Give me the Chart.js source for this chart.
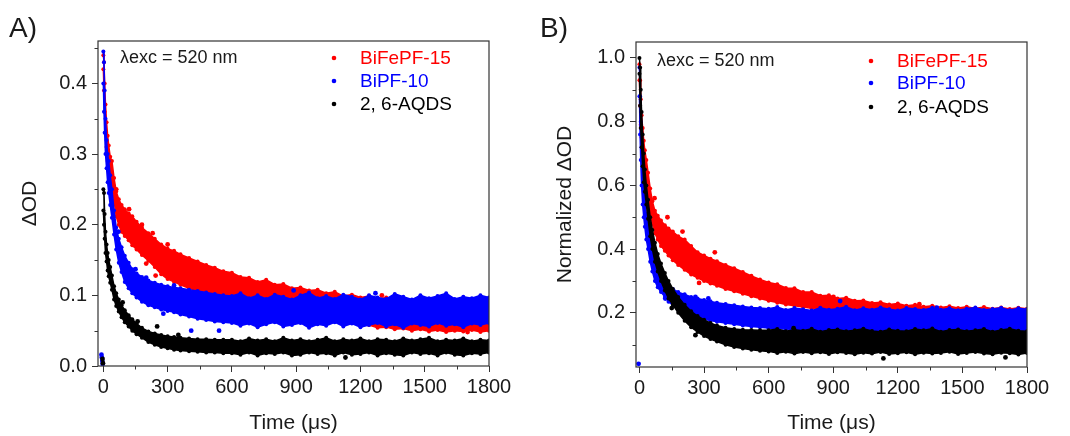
<!DOCTYPE html>
<html><head><meta charset="utf-8">
<script src="https://cdn.jsdelivr.net/npm/chart.js@4/dist/chart.umd.min.js"></script>
<style>
html,body{margin:0;padding:0;background:#fff;}
#wrap{position:relative;width:1070px;height:436px;}
canvas{position:absolute;top:0;}
#cA{left:0;} #cB{left:535px;}
</style></head>
<body><div id="wrap"><canvas id="cA" width="535" height="436"></canvas><canvas id="cB" width="535" height="436"></canvas></div>
<script>
// ---- data ----
const T = [0,3,6,10,15,20,25,32,40,50,60,72,85,100,118,135,155,180,210,240,270,300,330,360,400,440,480,520,560,
  600,640,680,720,760,800,840,880,920,960,1000,1040,1080,1120,1160,1200,1240,1280,1320,1360,1400,1440,1480,1520,1560,1600,1640,1680,1720,1760,1800];

// Panel A: ΔOD band (upper / lower edge of the scattered points)
const redA_hi = [0.44,0.43,0.40,0.37,0.345,0.326,0.312,0.296,0.29,0.266,0.247,0.236,0.228,0.222,0.216,0.212,0.204,0.196,0.188,0.18,0.172,0.166,0.163,0.158,0.153,0.148,0.143,0.139,0.134,
  0.132,0.126,0.125,0.119,0.122,0.115,0.116,0.11,0.111,0.107,0.108,0.103,0.105,0.099,0.101,0.097,0.099,0.095,0.097,0.094,0.096,0.092,0.094,0.091,0.093,0.09,0.092,0.089,0.091,0.088,0.09];
const redA_lo = [0.42,0.39,0.36,0.33,0.31,0.29,0.276,0.262,0.255,0.234,0.212,0.2,0.19,0.184,0.178,0.171,0.165,0.157,0.149,0.14,0.13,0.123,0.119,0.115,0.11,0.106,0.102,0.099,0.097,
  0.095,0.093,0.092,0.089,0.088,0.085,0.084,0.08,0.079,0.075,0.073,0.069,0.067,0.063,0.062,0.058,0.058,0.054,0.055,0.052,0.053,0.05,0.052,0.049,0.051,0.048,0.05,0.049,0.051,0.048,0.05];
const blueA_hi = [0.445,0.43,0.39,0.35,0.32,0.30,0.29,0.27,0.25,0.22,0.196,0.18,0.168,0.156,0.146,0.137,0.131,0.126,0.121,0.118,0.115,0.113,0.111,0.11,0.108,0.106,0.104,0.102,0.1,
  0.099,0.103,0.096,0.1,0.095,0.101,0.098,0.094,0.1,0.104,0.096,0.099,0.095,0.101,0.098,0.094,0.1,0.097,0.095,0.102,0.098,0.094,0.1,0.096,0.099,0.103,0.095,0.098,0.096,0.1,0.097];
const blueA_lo = [0.40,0.36,0.33,0.30,0.28,0.26,0.245,0.228,0.21,0.186,0.165,0.146,0.133,0.119,0.11,0.103,0.097,0.091,0.086,0.083,0.08,0.078,0.076,0.073,0.07,0.067,0.065,0.063,0.062,
  0.061,0.057,0.06,0.055,0.059,0.062,0.056,0.058,0.061,0.054,0.059,0.057,0.062,0.056,0.06,0.055,0.058,0.061,0.056,0.059,0.054,0.06,0.058,0.056,0.061,0.057,0.059,0.055,0.06,0.058,0.061];
const blackA_hi = [0.25,0.245,0.215,0.19,0.172,0.16,0.15,0.14,0.128,0.113,0.103,0.094,0.086,0.079,0.072,0.066,0.06,0.054,0.049,0.046,0.044,0.042,0.041,0.04,0.039,0.038,0.038,0.037,0.037,
  0.037,0.035,0.039,0.036,0.038,0.035,0.04,0.036,0.038,0.035,0.037,0.04,0.035,0.038,0.036,0.039,0.035,0.038,0.037,0.035,0.039,0.036,0.038,0.04,0.035,0.037,0.036,0.039,0.035,0.037,0.036];
const blackA_lo = [0.22,0.20,0.18,0.16,0.148,0.135,0.127,0.118,0.108,0.094,0.085,0.077,0.069,0.062,0.056,0.05,0.045,0.04,0.034,0.03,0.027,0.025,0.023,0.022,0.021,0.02,0.019,0.019,0.018,
  0.018,0.016,0.019,0.015,0.018,0.017,0.019,0.015,0.016,0.019,0.017,0.018,0.015,0.019,0.016,0.017,0.019,0.015,0.018,0.016,0.015,0.019,0.017,0.018,0.015,0.019,0.016,0.015,0.018,0.017,0.019];
// isolated points (panel A)
const redA_ox = [60,120,180,230,244,300,200,1012,1090,1300,1700];
const redA_oy = [0.25,0.222,0.2,0.188,0.128,0.172,0.145,0.1,0.1,0.1,0.048];
const blueA_ox = [-9,-7,-5,-3,70,150,200,259,280,330,410,540,888,1270];
const blueA_oy = [0.016,0.012,0.007,0.003,0.19,0.137,0.125,0.112,0.074,0.114,0.05,0.05,0.107,0.103];
const blackA_ox = [-4,-2,90,160,251,350,1130];
const blackA_oy = [0.01,0.004,0.09,0.063,0.056,0.044,0.012];

// Panel B: normalized ΔOD band
const redB_hi = [0.98,0.93,0.87,0.82,0.78,0.74,0.71,0.68,0.64,0.59,0.55,0.52,0.505,0.49,0.475,0.465,0.455,0.44,0.43,0.41,0.39,0.38,0.37,0.362,0.35,0.34,0.328,0.316,0.305,
  0.295,0.29,0.278,0.277,0.265,0.265,0.254,0.255,0.245,0.247,0.238,0.239,0.231,0.233,0.226,0.229,0.222,0.225,0.219,0.222,0.217,0.221,0.215,0.219,0.214,0.218,0.213,0.217,0.212,0.216,0.213];
const redB_lo = [0.93,0.85,0.79,0.75,0.70,0.66,0.63,0.60,0.56,0.51,0.48,0.45,0.43,0.41,0.395,0.38,0.365,0.35,0.335,0.32,0.31,0.30,0.292,0.285,0.275,0.268,0.26,0.252,0.245,
  0.238,0.232,0.226,0.222,0.218,0.214,0.21,0.207,0.204,0.202,0.2,0.198,0.196,0.194,0.193,0.192,0.19,0.189,0.188,0.187,0.186,0.185,0.184,0.183,0.182,0.181,0.18,0.18,0.179,0.178,0.178];
const blueB_hi = [0.97,0.88,0.80,0.72,0.66,0.60,0.56,0.51,0.47,0.43,0.40,0.37,0.345,0.325,0.305,0.285,0.275,0.265,0.258,0.25,0.245,0.24,0.236,0.232,0.228,0.224,0.22,0.217,0.215,
  0.213,0.218,0.209,0.215,0.211,0.207,0.216,0.21,0.213,0.219,0.208,0.214,0.21,0.217,0.211,0.207,0.215,0.212,0.209,0.216,0.21,0.214,0.208,0.213,0.217,0.209,0.212,0.216,0.208,0.214,0.211];
const blueB_lo = [0.88,0.76,0.68,0.60,0.54,0.50,0.47,0.43,0.40,0.36,0.33,0.30,0.28,0.265,0.25,0.235,0.225,0.21,0.2,0.192,0.186,0.18,0.176,0.172,0.168,0.164,0.16,0.157,0.155,
  0.152,0.15,0.149,0.148,0.147,0.146,0.145,0.145,0.144,0.144,0.143,0.143,0.142,0.142,0.142,0.141,0.141,0.141,0.14,0.14,0.14,0.14,0.14,0.14,0.14,0.14,0.14,0.14,0.14,0.14,0.14];
const blackB_hi = [1.0,0.97,0.90,0.83,0.76,0.70,0.65,0.60,0.555,0.50,0.46,0.42,0.385,0.355,0.325,0.30,0.275,0.25,0.225,0.205,0.19,0.178,0.168,0.16,0.153,0.149,0.147,0.146,0.145,
  0.145,0.149,0.142,0.147,0.144,0.15,0.141,0.146,0.148,0.142,0.145,0.15,0.143,0.141,0.148,0.144,0.142,0.149,0.145,0.151,0.141,0.146,0.148,0.142,0.145,0.149,0.141,0.146,0.15,0.144,0.142];
const blackB_lo = [0.95,0.85,0.78,0.72,0.66,0.61,0.58,0.54,0.495,0.44,0.40,0.36,0.33,0.30,0.27,0.245,0.225,0.2,0.175,0.155,0.14,0.127,0.118,0.11,0.1,0.093,0.088,0.084,0.081,
  0.079,0.074,0.078,0.072,0.077,0.073,0.076,0.071,0.076,0.074,0.07,0.075,0.072,0.077,0.071,0.073,0.076,0.07,0.075,0.072,0.074,0.078,0.071,0.074,0.077,0.072,0.07,0.075,0.073,0.069,0.074];
// isolated points (panel B)
const redB_ox = [70,130,200,277,350,901,1065,1300];
const redB_oy = [0.56,0.5,0.455,0.294,0.39,0.25,0.222,0.227];
const blueB_ox = [-4,120,260,320,932,1381];
const blueB_oy = [0.04,0.245,0.25,0.245,0.237,0.216];
const blackB_ox = [150,260,716,1133,1700];
const blackB_oy = [0.215,0.13,0.152,0.057,0.06];

// axis ticks & labels
const X_TICKS = [0,300,600,900,1200,1500,1800];
const X_MINOR = [150,450,750,1050,1350,1650];
const YA_TICKS = [0,0.1,0.2,0.3,0.4];
const YA_LABELS = ['0.0','0.1','0.2','0.3','0.4'];
const YA_MINOR = [0.05,0.15,0.25,0.35,0.45];
const YB_TICKS = [0.2,0.4,0.6,0.8,1.0];
const YB_LABELS = ['0.2','0.4','0.6','0.8','1.0'];
const YB_MINOR = [0.1,0.3,0.5,0.7,0.9];
const SERIES = ['BiFePF-15','BiPF-10','2, 6-AQDS'];
const COLORS = ['#ff0000','#0000ff','#000000'];

// ---- chart building ----
const FONT = '"Liberation Sans", Arial, sans-serif';
const INK = '#1a1a1a';
function band(hi, lo, color, order){
  const base = {type:'line', borderColor:color, backgroundColor:color, borderWidth:1.5, pointRadius:2,
    pointBorderWidth:0, pointBackgroundColor:color, tension:0, order:order};
  return [
    Object.assign({}, base, {data:T.map((t,i)=>({x:t,y:hi[i]})), fill:'+1'}),
    Object.assign({}, base, {data:T.map((t,i)=>({x:t,y:lo[i]})), fill:false})
  ];
}
function pts(xs, ys, color, order){
  return {type:'scatter', data:xs.map((x,i)=>({x:x,y:ys[i]})), showLine:false, pointRadius:2.4,
    pointBorderWidth:0, pointBackgroundColor:color, backgroundColor:color, borderColor:color, order:order};
}
function decor(opts){
  return {id:'decor'+opts.label, afterDraw(chart){
    const {ctx, chartArea:a, scales:{x,y}} = chart;
    ctx.save();
    ctx.strokeStyle = '#333'; ctx.lineWidth = 1.2;
    ctx.strokeRect(a.left, a.top, a.right-a.left, a.bottom-a.top);
    ctx.lineWidth = 1;
    ctx.beginPath();
    X_MINOR.forEach(v=>{const px=Math.round(x.getPixelForValue(v))+0.5; ctx.moveTo(px,a.bottom); ctx.lineTo(px,a.bottom+3.5);});
    opts.yMinor.forEach(v=>{const py=Math.round(y.getPixelForValue(v))+0.5; ctx.moveTo(a.left,py); ctx.lineTo(a.left-3.5,py);});
    ctx.stroke();
    // panel label
    ctx.fillStyle = INK; ctx.textBaseline='middle'; ctx.textAlign='left';
    ctx.font = '28px '+FONT;
    ctx.fillText(opts.label, opts.labelX, opts.labelY);
    ctx.font = '18px '+FONT;
    ctx.fillText('\u03bbexc = 520 nm', opts.lamX, opts.lamY);
    ctx.font = '19px '+FONT;
    SERIES.forEach((s,i)=>{
      ctx.fillStyle = COLORS[i];
      ctx.beginPath(); ctx.arc(opts.legX, opts.legY[i], 2.3, 0, Math.PI*2); ctx.fill();
      ctx.fillText(s, opts.legX+26, opts.legY[i]+1);
    });
    ctx.restore();
  }};
}
function makeChart(id, d, yTicks, yLabels, yMin, yMax, xMin, yTitle, yWidth, pad, xH, decorOpts){
  const datasets = [
    ...band(d.bh, d.bl, COLORS[2], 0), pts(d.box, d.boy, COLORS[2], 0),
    ...band(d.uh, d.ul, COLORS[1], 1), pts(d.uox, d.uoy, COLORS[1], 1),
    ...band(d.rh, d.rl, COLORS[0], 2), pts(d.rox, d.roy, COLORS[0], 2)
  ];
  return new Chart(document.getElementById(id), {
    type:'line',
    data:{datasets},
    options:{
      responsive:false, animation:false, devicePixelRatio:1,
      layout:{padding:pad},
      plugins:{legend:{display:false}, tooltip:{enabled:false}},
      scales:{
        x:{type:'linear', min:xMin, max:1800,
          afterBuildTicks(s){ s.ticks = X_TICKS.map(v=>({value:v})); },
          afterFit(s){ s.height = xH; },
          ticks:{font:{family:FONT,size:20}, color:INK, padding:3, maxRotation:0, autoSkip:false,
            callback:(v)=>String(v)},
          grid:{drawOnChartArea:false, drawTicks:true, tickLength:6, color:'#333', tickWidth:1},
          border:{display:false},
          title:{display:true, text:'Time (\u03bcs)', font:{family:FONT,size:21}, color:INK, padding:{top:0,bottom:0}}
        },
        y:{type:'linear', min:yMin, max:yMax,
          afterBuildTicks(s){ s.ticks = yTicks.map(v=>({value:v})); },
          afterFit(s){ s.width = yWidth; },
          ticks:{font:{family:FONT,size:20}, color:INK, padding:5, autoSkip:false,
            callback:(v)=>{const i=yTicks.findIndex(t=>Math.abs(t-v)<1e-9); return i>=0?yLabels[i]:'';}},
          grid:{drawOnChartArea:false, drawTicks:true, tickLength:6, color:'#333', tickWidth:1},
          border:{display:false},
          title:{display:true, text:yTitle, font:{family:FONT,size:21}, color:INK, padding:{top:18,bottom:0}}
        }
      }
    },
    plugins:[decor(decorOpts)]
  });
}

makeChart('cA', {rh:redA_hi, rl:redA_lo, uh:blueA_hi, ul:blueA_lo, bh:blackA_hi, bl:blackA_lo,
    rox:redA_ox, roy:redA_oy, uox:blueA_ox, uoy:blueA_oy, box:blackA_ox, boy:blackA_oy},
  YA_TICKS, YA_LABELS, 0, 0.46, -25, '\u0394OD', 98, {left:0, top:41, right:46, bottom:0}, 70,
  {label:'A)', labelX:9, labelY:29, lamX:120, lamY:58, legX:334, legY:[58,81,104], yMinor:YA_MINOR});

makeChart('cB', {rh:redB_hi, rl:redB_lo, uh:blueB_hi, ul:blueB_lo, bh:blackB_hi, bl:blackB_lo,
    rox:redB_ox, roy:redB_oy, uox:blueB_ox, uoy:blueB_oy, box:blackB_ox, boy:blackB_oy},
  YB_TICKS, YB_LABELS, 0.03, 1.05, -16, 'Normalized \u0394OD', 101, {left:0, top:42, right:43, bottom:0}, 69,
  {label:'B)', labelX:5, labelY:29, lamX:122, lamY:61, legX:336, legY:[61,83,107], yMinor:YB_MINOR});
</script>
</body></html>
